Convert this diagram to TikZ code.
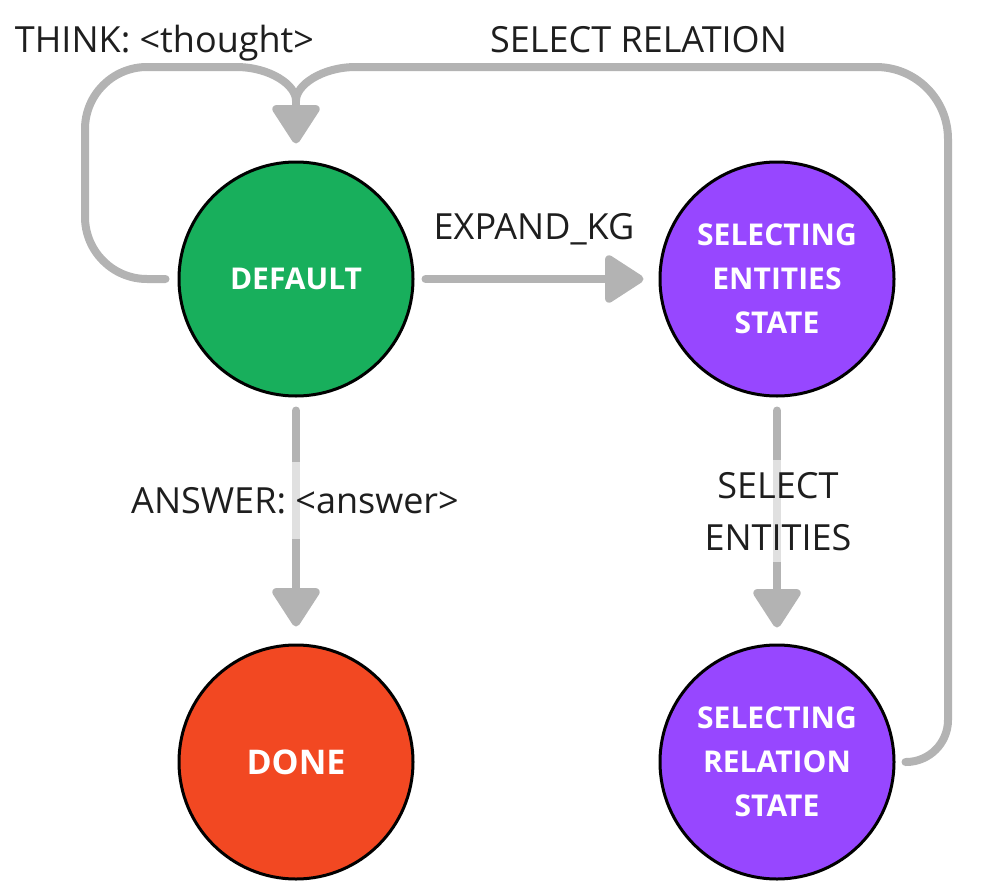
\documentclass[tikz,border=0pt]{standalone}
\usepackage{fontspec}
\setmainfont{Open Sans}
\usetikzlibrary{arrows.meta}
\definecolor{cgreen}{HTML}{18AF5C}
\definecolor{cpurple}{HTML}{9747FF}
\definecolor{cred}{HTML}{F24822}
\definecolor{cgray}{HTML}{B3B3B3}
\definecolor{ctext}{HTML}{1E1E1E}
\tikzset{
  state/.style={circle, draw=black, line width=3pt, minimum size=234pt, inner sep=0pt,
    text=white, font=\fontsize{30}{44}\selectfont\bfseries, align=center},
  conn/.style={draw=cgray, line width=8pt, line cap=round,
    -{Triangle[width=52pt,length=42pt,round]}},
  plain/.style={draw=cgray, line width=8pt, line cap=round},
  lbl/.style={text=ctext, font=\fontsize{36}{52}\selectfont, inner sep=0pt, align=center},
  lblbg/.style={fill=white, fill opacity=0.6, text opacity=1, inner xsep=0pt}
}
\begin{document}
\begin{tikzpicture}[x=1pt,y=-1pt]
\useasboundingbox (0,0) rectangle (997,894);
\node[state, fill=cgreen] (def) at (296,279) {DEFAULT};
\node[state, fill=cpurple] (sel) at (777,279) {SELECTING\\ENTITIES\\STATE};
\node[state, fill=cred, font=\fontsize{34}{44}\selectfont\bfseries] (done) at (296,762) {DONE};
\node[state, fill=cpurple] (rel) at (777,762) {SELECTING\\RELATION\\STATE};
\coordinate (tip) at ([yshift=17pt]def.north);
\coordinate (base) at ([yshift=60pt]def.north);
\coordinate (tl) at (236,67);
\coordinate (tr) at (356,67);
% THINK loop
\draw[plain, rounded corners=62pt] ([xshift=-12pt]def.west) -- (85,279) -- (85,67) -- (tl);
\draw[plain] (tl) .. controls (270,67) and (296,85) .. (base);
% SELECT RELATION loop
\draw[plain] ([xshift=10pt]rel.east) [rounded corners=42pt] -- (948,762) [rounded corners=72pt] -- (948,67) -- (tr);
\draw[plain] (tr) .. controls (322,67) and (296,85) .. (base);
\draw[conn] (base) -- (tip);
% EXPAND_KG
\draw[conn, shorten <=11pt, shorten >=15pt] (def.east) -- (sel.west);
% ANSWER
\draw[conn, shorten <=13pt, shorten >=17pt] (def.south) -- (done.north);
% SELECT ENTITIES
\draw[conn, shorten <=13pt, shorten >=16pt] (sel.south) -- (rel.north);
% labels
\node[lbl, anchor=base] (lthink) at (164.5,52) {THINK: <thought>};
\node[lbl, anchor=base] (lrel) at (638.5,52) {SELECT RELATION};
\node[lbl, anchor=base] (lexp) at (534,239) {EXPAND\_KG};
\node[lbl, lblbg, inner ysep=25pt, anchor=base] (lans) at (295,513) {ANSWER: <answer>};
\node[lbl, lblbg, inner ysep=12pt, anchor=base] (lsel) at (778,550) {SELECT\\ENTITIES};
\end{tikzpicture}
\end{document}
